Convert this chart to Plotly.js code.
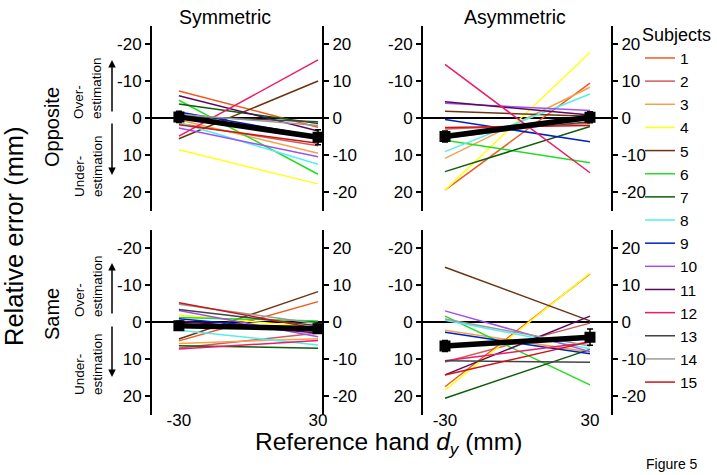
<!DOCTYPE html>
<html><head><meta charset="utf-8">
<script src="https://cdn.plot.ly/plotly-3.0.1.min.js"></script>
<style>html,body{margin:0;padding:0;background:#fff}#c{width:717px;height:475px}</style>
</head><body><div id="c"></div>
<script>
// ---------- data ----------
const subjects = ['1','2','3','4','5','6','7','8','9','10','11','12','13','14','15'];
const colors = ['#f05a1e','#cd5c5c','#f4a24a','#ffff1a','#6b3410','#22dd22','#0b5e0b','#55eeee','#0020c0','#a050f0','#5a0a5a','#ee1a6a','#444444','#9a9a9a','#cc1515'];
const refHand = [-30, 30];
// Symmetric / Opposite
const soStart = [-7.3, 1.5, 0.5, 8.6, 5.6, -4.8, -3.8, 1.2, -1.6, 2.7, -6.0, 4.9, -0.5, -1.0, 1.8];
const soEnd   = [2.5, 7.5, 9.5, 17.8, -10.0, 15.2, 1.5, 12.5, 5.0, 10.5, 3.5, -15.7, 1.0, 2.0, 6.8];
// Asymmetric / Opposite
const aoStart = [19.5, 3.0, 10.9, 19.5, -1.8, 6.0, 14.5, 9.1, 0.4, -4.0, -4.4, -14.5, 4.5, 5.5, 2.6];
const aoEnd   = [-9.4, 1.5, -8.3, -17.7, -0.5, 12.1, 2.3, -6.5, 6.4, -2.0, -0.8, 14.8, 1.0, 0.5, 2.0];
// Symmetric / Same
const ssStart = [5.1, 7.0, 5.8, -1.9, 4.6, -1.2, 6.4, 2.2, -0.9, -3.1, -0.3, 7.3, -3.4, -4.8, -5.2];
const ssEnd   = [-5.5, 3.0, 4.5, 1.5, -8.2, -0.3, 7.1, 6.2, 2.5, 4.0, 3.0, 5.0, 1.0, 0.5, 1.8];
// Asymmetric / Same
const asStart = [17.5, 10.8, 2.2, 18.4, -14.8, -1.6, 20.6, -0.5, 2.8, -3.0, 14.3, 10.5, 10.5, -0.8, 14.3];
const asEnd   = [-13.0, 0.3, 8.1, -13.2, -0.3, 17.0, 7.4, 7.2, 8.6, 8.0, -1.6, 5.5, 10.9, 6.5, 5.3];
// group means and error bars (SO, AO, SS, AS)
const meanStart = [-0.3, 5.0, 1.0, 6.5];
const meanEnd   = [5.2, -0.2, 1.8, 4.1];
const errStart  = [1.5, 1.5, 1.2, 1.5];
const errEnd    = [2.0, 1.5, 1.2, 2.2];
const leftTicks = [-20, -10, 0, 10, 20];
const leftTickText = ['-20', '-10', '0', '10', '20'];
const rightTickText = ['-20', '-10', '0', '10', '20'];
const xTicks = [-30, 30];
const xTickText = ['-30', '30'];

// ---------- geometry ----------
const W = 717, H = 475;
const px = v => v / W, py = v => 1 - v / H;
const panels = [
  {start: soStart, end: soEnd, xd: [152, 322], yd: [25.5, 210.5], xr: [-41.6, 31.7], bottom: false},
  {start: aoStart, end: aoEnd, xd: [423, 611], yd: [25.5, 210.5], xr: [-39.1, 38.7], bottom: false},
  {start: ssStart, end: ssEnd, xd: [152, 322], yd: [229.5, 414.5], xr: [-41.6, 31.7], bottom: true},
  {start: asStart, end: asEnd, xd: [423, 611], yd: [229.5, 414.5], xr: [-39.1, 38.7], bottom: true}
];
const FONT = 'Liberation Sans, Arial, sans-serif';
const traces = [];
const layout = {
  width: W, height: H, margin: {l: 0, r: 0, t: 0, b: 0},
  paper_bgcolor: '#fff', plot_bgcolor: 'rgba(0,0,0,0)',
  font: {family: FONT, color: '#000', size: 17},
  showlegend: true,
  legend: {x: px(640), y: py(18), xanchor: 'left', yanchor: 'top', bgcolor: 'rgba(0,0,0,0)',
           font: {size: 15.5}, title: {text: 'Subjects', font: {size: 18}}, tracegroupgap: 0, itemwidth: 30},
  annotations: [], shapes: []
};

panels.forEach((p, k) => {
  const n = k + 1;
  const xa = 'x' + (n === 1 ? '' : n), ya = 'y' + (n === 1 ? '' : n);
  const yr = 'y' + (n + 4);
  p.start.forEach((s, i) => {
    traces.push({x: refHand, y: [s, p.end[i]], mode: 'lines', xaxis: xa, yaxis: ya,
      line: {color: colors[i], width: 1.5}, name: subjects[i], legendgroup: subjects[i],
      showlegend: k === 0, hoverinfo: 'skip'});
  });
  traces.push({x: refHand, y: [meanStart[k], meanEnd[k]], mode: 'lines+markers', xaxis: xa, yaxis: ya,
    line: {color: '#000', width: 5.5}, marker: {symbol: 'square', size: 11, color: '#000'},
    error_y: {type: 'data', array: [errStart[k], errEnd[k]], color: '#000', thickness: 1.5, width: 3},
    showlegend: false, hoverinfo: 'skip'});
  traces.push({x: refHand, y: [null, null], mode: 'lines', xaxis: xa, yaxis: yr, showlegend: false, hoverinfo: 'skip'});

  layout['xaxis' + (n === 1 ? '' : n)] = {
    domain: [px(p.xd[0]), px(p.xd[1])], range: p.xr, anchor: 'free', position: py(p.yd[1] - 7),
    showline: false, showgrid: false, zeroline: false, ticks: '',
    tickvals: xTicks, ticktext: xTickText, showticklabels: p.bottom, tickfont: {size: 17}
  };
  layout['yaxis' + (n === 1 ? '' : n)] = {
    domain: [py(p.yd[1]), py(p.yd[0])], range: [25, -25], anchor: xa,
    showline: true, linecolor: '#000', linewidth: 2, showgrid: false,
    zeroline: true, zerolinecolor: '#000', zerolinewidth: 1.5,
    ticks: 'outside', ticklen: 5, tickwidth: 1.5, tickcolor: '#000',
    tickvals: leftTicks, ticktext: leftTickText, tickfont: {size: 17}
  };
  layout['yaxis' + (n + 4)] = {
    overlaying: ya, side: 'right', anchor: xa, range: [-25, 25],
    showline: true, linecolor: '#000', linewidth: 2, showgrid: false, zeroline: false,
    ticks: 'outside', ticklen: 5, tickwidth: 1.5, tickcolor: '#000',
    tickvals: leftTicks, ticktext: rightTickText, tickfont: {size: 17}
  };
});

const A = layout.annotations;
const txt = (t, x, y, size, extra) => A.push(Object.assign({text: t, x: px(x), y: py(y), xref: 'paper', yref: 'paper',
  showarrow: false, xanchor: 'center', yanchor: 'middle', font: {size: size}}, extra || {}));
txt('Symmetric', 225, 17, 19.5);
txt('Asymmetric', 515, 17, 19.5);
txt('Relative error (mm)', 14, 236, 25.5, {textangle: -90});
txt('Opposite', 52, 127, 20, {textangle: -90});
txt('Same', 52, 314, 20, {textangle: -90});
txt('Over-<br>estimation', 88, 88, 13.5, {textangle: -90, align: 'left'});
txt('Under-<br>estimation', 88, 166, 13.5, {textangle: -90, align: 'left'});
txt('Over-<br>estimation', 88, 286, 13.5, {textangle: -90, align: 'left'});
txt('Under-<br>estimation', 88, 364, 13.5, {textangle: -90, align: 'left'});
txt('Reference hand <i>d<sub>y</sub></i> (mm)', 388, 443, 24.5);
txt('Figure 5', 672, 464, 14);
const arrow = (xh, yh, yt) => A.push({text: '', x: px(xh), y: py(yh), xref: 'paper', yref: 'paper',
  showarrow: true, ax: 0, ay: yt - yh, arrowhead: 2, arrowsize: 1, arrowwidth: 1.5, arrowcolor: '#000', standoff: 0});
arrow(112, 60, 113); arrow(112, 175, 122);
arrow(112, 263, 315); arrow(112, 377, 325);

Plotly.newPlot('c', traces, layout, {staticPlot: true});
</script></body></html>
